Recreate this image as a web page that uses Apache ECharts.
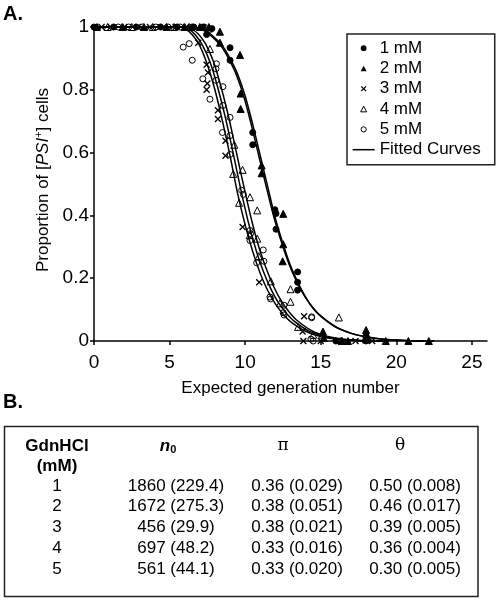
<!DOCTYPE html>
<html><head><meta charset="utf-8">
<script src="https://cdn.jsdelivr.net/npm/echarts@6/dist/echarts.min.js"></script>
<style>html,body{margin:0;padding:0;background:#fff}#c{width:498px;height:601px}</style>
</head><body><div id="c"></div>
<script>
// ---------- data ----------
const seriesNames = ['1 mM', '2 mM', '3 mM', '4 mM', '5 mM'];
const xTicks = [0, 5, 10, 15, 20, 25];

const pts1mM = [[0,1],[1.3,1],[2.8,1],[4.4,1],[5.5,1],[6.6,1],[7.2,1],[7.8,0.995],[7.45,0.976],[9.0,0.934],[9.0,0.894],[10.5,0.664],[10.5,0.625],[11.97,0.418],[12.04,0.406],[12.04,0.356],[13.47,0.22],[13.47,0.187],[13.47,0.162],[16.0,0.0],[18.0,0.012],[18.0,0.0]];
const pts2mM = [[0.2,1],[1.9,1],[3.3,1],[4.8,1],[6.0,1],[7.0,1],[7.6,1],[8.33,0.985],[8.33,0.95],[9.66,0.911],[9.7,0.788],[9.7,0.739],[11.09,0.559],[11.09,0.534],[12.52,0.405],[12.52,0.308],[12.48,0.254],[15.15,0.03],[15.2,0.01],[16.4,0],[16.8,0],[18,0.035],[18,0.025],[18,0.015],[18,0.005],[19.3,0],[20.8,0],[22.15,0]];
const pts3mM = [[0.5,1],[1.1,1],[2.0,1],[2.9,1],[3.7,1],[4.6,1],[5.4,1],[6.1,1],[6.9,0.95],[7.54,0.855],[7.45,0.88],[7.5,0.82],[7.45,0.80],[8.2,0.735],[8.2,0.707],[8.7,0.638],[8.7,0.59],[9.83,0.363],[10.93,0.187],[13.9,0.079],[13.8,0.03],[13.85,0],[15.0,0],[17.3,0],[18.4,0]];
const pts4mM = [[0.9,1],[2.5,1],[3.9,1],[5.3,1],[6.3,1],[7.6,0.995],[7.67,0.93],[9.28,0.625],[9.83,0.545],[9.21,0.532],[10.32,0.458],[10.8,0.416],[9.6,0.44],[10.3,0.337],[10.8,0.326],[10.9,0.27],[11.7,0.19],[12.3,0.12],[13.0,0.165],[13.0,0.125],[13.5,0.045],[14.5,0.02],[15.1,0.02],[16.2,0.075],[16.4,0]];
const pts5mM = [[1.6,1],[2.3,1],[3.2,1],[4.1,1],[4.9,1],[5.7,1],[6.5,1],[7.3,1],[5.9,0.936],[6.3,0.947],[6.5,0.894],[8.1,0.883],[8.07,0.867],[7.2,0.835],[8.07,0.83],[7.67,0.77],[8.53,0.81],[8.53,0.75],[9.0,0.712],[8.5,0.664],[9.0,0.654],[9.0,0.594],[9.77,0.48],[9.88,0.467],[10.32,0.352],[10.32,0.32],[10.36,0.342],[11.2,0.29],[10.76,0.249],[11.24,0.254],[11.64,0.14],[11.68,0.134],[12.52,0.09],[12.57,0.114],[12.57,0.083],[14.4,0.074],[14.4,0.077],[14.35,0.006],[14.5,0],[16.3,0]];

const curve1mM = [[0,1],[6.5,1],[7.0,0.995],[7.5,0.985],[8.0,0.965],[8.5,0.94],[9.0,0.9],[9.5,0.85],[10.0,0.78],[10.5,0.69],[11.0,0.59],[11.5,0.49],[12.0,0.39],[12.5,0.31],[13.0,0.24],[13.5,0.185],[14.0,0.14],[14.5,0.105],[15.0,0.08],[16.0,0.045],[17.0,0.025],[18.0,0.013],[19.0,0.006],[20.0,0.003],[21.0,0.001],[22.5,0]];
const curve2mM = [[0,1],[6.4,1],[6.9,0.995],[7.4,0.985],[7.9,0.965],[8.4,0.94],[8.9,0.9],[9.4,0.85],[9.9,0.78],[10.4,0.69],[10.9,0.59],[11.4,0.49],[11.9,0.395],[12.4,0.315],[12.9,0.245],[13.4,0.19],[13.9,0.145],[14.4,0.11],[14.9,0.083],[15.9,0.047],[16.9,0.026],[17.9,0.014],[18.9,0.007],[19.9,0.003],[20.9,0.001],[22.5,0]];
const curve3mM = [[0,1],[5.5,1],[6.0,0.995],[6.5,0.975],[7.0,0.94],[7.5,0.88],[8.0,0.8],[8.5,0.7],[9.0,0.59],[9.5,0.47],[10.0,0.37],[10.5,0.285],[11.0,0.215],[11.5,0.16],[12.0,0.118],[12.5,0.086],[13.0,0.062],[14.0,0.031],[15.0,0.014],[16.0,0.006],[17.5,0.001],[19,0]];
const curve4mM = [[0,1],[5.7,1],[6.2,0.995],[6.7,0.975],[7.2,0.94],[7.7,0.885],[8.2,0.805],[8.7,0.71],[9.2,0.6],[9.7,0.485],[10.2,0.38],[10.7,0.293],[11.2,0.222],[11.7,0.166],[12.2,0.122],[12.7,0.09],[13.2,0.065],[14.2,0.032],[15.2,0.015],[16.2,0.006],[17.7,0.001],[19.2,0]];
const curve5mM = [[0,1],[5.9,1],[6.4,0.995],[6.9,0.978],[7.4,0.945],[7.9,0.89],[8.4,0.81],[8.9,0.715],[9.4,0.605],[9.9,0.495],[10.4,0.39],[10.9,0.3],[11.4,0.23],[11.9,0.172],[12.4,0.127],[12.9,0.093],[13.4,0.067],[14.4,0.033],[15.4,0.015],[16.4,0.006],[17.9,0.001],[19.5,0]];

const tableConc = ['1', '2', '3', '4', '5'];
const tableN0 = ['1860 (229.4)', '1672 (275.3)', '456 (29.9)', '697 (48.2)', '561 (44.1)'];
const tablePi = ['0.36 (0.029)', '0.38 (0.051)', '0.38 (0.021)', '0.33 (0.016)', '0.33 (0.020)'];
const tableTheta = ['0.50 (0.008)', '0.46 (0.017)', '0.39 (0.005)', '0.36 (0.004)', '0.30 (0.005)'];

// ---------- chart ----------
const FONT = '"Liberation Sans", Arial, sans-serif';
const chart = echarts.init(document.getElementById('c'), null, {renderer: 'canvas'});
const crossPath = 'path://M0,0L10,10M10,0L0,10';
const black = '#000';
const open = 'rgba(255,255,255,0)';

// legend icons: invisible moveTo points fix the 22x7 box, visible glyph centred in it
const BOX = 'path://M0,0M22,7';
const legendIcons = {
  '1 mM': BOX + 'M13.9,3.5A2.9,2.9,0,1,1,8.1,3.5A2.9,2.9,0,1,1,13.9,3.5Z',
  '2 mM': BOX + 'M8,6.3L11,0.7L14,6.3Z',
  '3 mM': BOX + 'M8.6,1.1L13.4,5.9M13.4,1.1L8.6,5.9',
  '4 mM': BOX + 'M8,6.3L11,0.7L14,6.3Z',
  '5 mM': BOX + 'M13.6,3.5A2.6,2.6,0,1,1,8.4,3.5A2.6,2.6,0,1,1,13.6,3.5Z',
  'Fitted Curves': BOX + 'M0,2.8L22,2.8L22,4.3L0,4.3Z'
};
const legendFilled = {'1 mM': true, '2 mM': true, 'Fitted Curves': true};

function scatter(name, data, symbol, size, fill, bw) {
  return {
    type: 'scatter', name, data, symbol, symbolSize: size, clip: false, z: 3,
    itemStyle: {color: fill, borderColor: black, borderWidth: bw || 1, opacity: 1},
    emphasis: {disabled: true}
  };
}
function curve(data) {
  return {
    type: 'line', name: 'Fitted Curves', data, smooth: 0.3, showSymbol: false, symbol: 'none',
    clip: false, z: 2, lineStyle: {color: black, width: 1.5}, itemStyle: {color: black},
    emphasis: {disabled: true}
  };
}

const rowY = [486, 506.5, 527, 548, 569];
const tableTexts = [];
function txt(text, x, y, font, extra) {
  tableTexts.push({type: 'text', x: x, y: y, style: Object.assign({
    text: text, font: font || ('17px ' + FONT), fill: black, align: 'center', verticalAlign: 'middle'
  }, extra || {})});
}
txt('GdnHCl', 57, 446, 'bold 17px ' + FONT);
txt('(mM)', 57, 466, 'bold 17px ' + FONT);
txt('{n|n}{s|0}', 168, 446, 'bold italic 17px ' + FONT, {rich: {
  n: {font: 'bold italic 17px ' + FONT},
  s: {font: 'bold 11px ' + FONT, verticalAlign: 'bottom', padding: [7, 0, 0, 0]}}});
txt('π', 283, 446, '17px "DejaVu Serif", serif');
txt('θ', 400, 446, '17px "DejaVu Serif", serif');
tableConc.forEach((v, i) => {
  txt(v, 57, rowY[i]);
  txt(tableN0[i], 176, rowY[i]);
  txt(tablePi[i], 297, rowY[i]);
  txt(tableTheta[i], 415, rowY[i]);
});

const option = {
  animation: false,
  backgroundColor: '#fff',
  textStyle: {fontFamily: FONT, color: black},
  grid: {left: 94, top: 27, width: 393, height: 314, containLabel: false},
  xAxis: {
    type: 'value', min: 0, max: 26, interval: 5,
    name: 'Expected generation number', nameLocation: 'middle', nameGap: 39,
    nameTextStyle: {fontSize: 17, color: black, fontFamily: FONT},
    axisLine: {show: true, onZero: false, lineStyle: {color: black, width: 1.5}},
    axisTick: {show: true, inside: false, length: 4, lineStyle: {color: black, width: 1.5}, customValues: xTicks},
    axisLabel: {fontSize: 19, color: black, margin: 12, fontFamily: FONT, customValues: xTicks},
    splitLine: {show: false}
  },
  yAxis: {
    type: 'value', min: 0, max: 1, interval: 0.2,
    name: 'Proportion of [{it|PSI}{sup|+}] cells', nameLocation: 'middle', nameGap: 36, nameRotate: 90,
    nameTextStyle: {fontSize: 17, color: black, fontFamily: FONT, padding: [0, 0, 0, 8],
      rich: {it: {fontSize: 17, fontStyle: 'italic', fontFamily: FONT, color: black},
             sup: {fontSize: 11, fontFamily: FONT, color: black, verticalAlign: 'top', padding: [0, 0, 8, 0]}}},
    axisLine: {show: true, onZero: false, lineStyle: {color: black, width: 1.5}},
    axisTick: {show: true, inside: false, length: 4, lineStyle: {color: black, width: 1.5}},
    axisLabel: {fontSize: 19, color: black, margin: 5, fontFamily: FONT},
    splitLine: {show: false}
  },
  legend: {
    orient: 'vertical', left: 347, top: 34,
    padding: [4, 14, 5, 5], itemGap: 0, itemWidth: 22, itemHeight: 7,
    borderColor: '#222', borderWidth: 1.5, backgroundColor: '#fff',
    selectedMode: false,
    textStyle: {fontSize: 17, color: black, fontFamily: FONT, lineHeight: 20.3},
    data: seriesNames.concat(['Fitted Curves']).map(n => ({
      name: n,
      icon: legendIcons[n],
      itemStyle: legendFilled[n]
        ? {color: black, borderWidth: 0}
        : {color: 'rgba(0,0,0,0)', borderColor: black, borderWidth: n === '3 mM' ? 1.3 : 1}
    }))
  },
  graphic: [
    {type: 'text', left: 3, top: 4, style: {text: 'A.', font: 'bold 20px ' + FONT, fill: black}},
    {type: 'text', left: 3, top: 392, style: {text: 'B.', font: 'bold 20px ' + FONT, fill: black}},
    {type: 'rect', shape: {x: 4.5, y: 426.5, width: 473.5, height: 170}, style: {fill: 'none', stroke: '#222', lineWidth: 1.5}},
    {type: 'group', children: tableTexts}
  ],
  series: [
    curve(curve1mM), curve(curve2mM), curve(curve3mM), curve(curve4mM), curve(curve5mM),
    scatter('1 mM', pts1mM, 'circle', 6, black),
    scatter('2 mM', pts2mM, 'triangle', 7, black),
    scatter('3 mM', pts3mM, crossPath, 6, open, 1.3),
    scatter('4 mM', pts4mM, 'triangle', 7, open),
    scatter('5 mM', pts5mM, 'circle', 6, open)
  ]
};
chart.setOption(option);
</script></body></html>
